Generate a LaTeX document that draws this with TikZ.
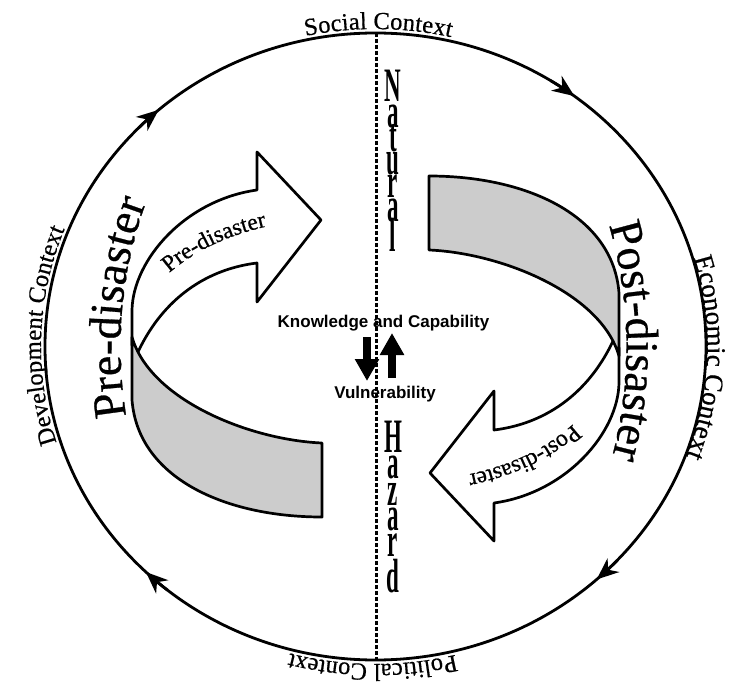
\documentclass[tikz,border=0pt]{standalone}
\usepackage{fontspec}
\setmainfont{Liberation Serif}[FakeBold=0.6]
\setsansfont{Liberation Sans}
\newfontfamily\tallserif{Liberation Serif Bold}
\usetikzlibrary{decorations.text,arrows.meta}
\definecolor{bandgray}{gray}{0.8}
\newcommand\ctxfont{\fontsize{24.5}{24.5}\selectfont}
\newcommand\ecofont{\fontsize{27}{27}\selectfont}
\newcommand\bigfont{\fontsize{46}{46}\selectfont}
\newcommand\smlfont{\fontsize{23.5}{23.5}\selectfont}
\newcommand\tallfont{\tallserif\fontsize{48}{48}\selectfont}
\tikzset{
  ctx/.style={decorate, decoration={text along path, text align=center, raise=4pt, text={|\ctxfont|#1}}},
  eco/.style={decorate, decoration={text along path, text align=center, raise=1pt, text={|\ecofont|#1}}},
  bigtext/.style={decorate, decoration={text along path, text align=center, raise=0pt, text={|\bigfont|#1}}},
  smltext/.style={decorate, decoration={text along path, text align=center, raise=-4pt, text={|\smlfont|#1}}},
  ribbonline/.style={draw=black, line width=2.7pt, line join=round},
  circarrow/.style={line width=2.8pt, -{Stealth[length=22pt,width=18pt,inset=7pt]}},
  thickarrow/.style={line width=7.5pt, -{Triangle[length=22pt,width=23pt]}},
  dotline/.style={line width=3pt, dash pattern=on 4pt off 2pt},
  tallletter/.style={inner sep=0pt, anchor=base, font=\tallfont},
  kvtext/.style={font=\sffamily\bfseries\fontsize{17}{17}\selectfont, inner sep=0pt}
}
% #1 small label, #2 #3 shift of the small label
\newcommand\myribbon[3]{%
  \path[ribbonline, fill=white] (132,345) -- (132,310) .. controls (133,260) and (185,200) .. (257,190)
    -- (257,152) -- (321,220) -- (257,302) -- (257,263)
    .. controls (200,270) and (160,305) .. (138,352) -- cycle;
  \path[ribbonline, fill=bandgray] (132,337) -- (132,400) .. controls (138,478) and (225,517) .. (322,517)
    -- (322,443) .. controls (250,440) and (150,400) .. (132,337) -- cycle;
  \begin{scope}[shift={(#2,#3)}]
    \path[smltext={#1}] (136,310) .. controls (172,255) and (235,228) .. (312,220);
  \end{scope}
}
\begin{document}
\begin{tikzpicture}[x=1pt,y=-1pt]
\useasboundingbox (0,0) rectangle (730,684);
\fill[white] (0,0) rectangle (730,684);
\coordinate (c) at (375.5,346.5);

% outer ellipse
\draw[line width=2.8pt] (c) ellipse[x radius=330.5, y radius=313.5];
\foreach \a in {307,229,134,48}{
  \draw[circarrow] (c) ++(\a-5:330.5 and 313.5) arc[start angle=\a-5, end angle=\a, x radius=330.5, y radius=313.5];
}

% context labels
\path[ctx={Social Context}] (c) ++(240:330.5 and 313.5) arc[start angle=240, end angle=301, x radius=330.5, y radius=313.5];
\path[eco={Economic Context}] (c) ++(-40:330.5 and 313.5) arc[start angle=-40, end angle=44, x radius=330.5, y radius=313.5];
\path[ctx={Political Context}] (c) ++(60:330.5 and 313.5) arc[start angle=60, end angle=121, x radius=330.5, y radius=313.5];
\path[ctx={Development Context}] (c) ++(146:330.5 and 313.5) arc[start angle=146, end angle=218, x radius=330.5, y radius=313.5];

% ribbons
\myribbon{Pre-disaster}{0}{-5}
\begin{scope}[rotate around={180:(c)}]
\myribbon{Post-disaster}{12}{-12}
\end{scope}

% big labels
\path[bigtext={Pre-disaster}] (c) ++(160:255 and 330) arc[start angle=160, end angle=214, x radius=255, y radius=330];
\path[bigtext={Post-disaster}] (c) ++(-30:251 and 330) arc[start angle=-30, end angle=28, x radius=251, y radius=330];

% centre texts
\node[kvtext] (kc) at (383.5,323) {Knowledge and Capability};
\node[kvtext] (vu) at (385,394) {Vulnerability};

% Natural / Hazard
\foreach \ch/\yy [count=\i] in {N/102,a/128,t/152,u/175,r/198,a/222,l/252}{
  \node[tallletter] (nat\i) at (393,\yy) {\scalebox{0.48}[1]{\ch}};
}
\foreach \ch/\yy [count=\i] in {H/452,a/478,z/505,a/530,r/556,d/592}{
  \node[tallletter] (haz\i) at (393,\yy) {\scalebox{0.48}[1]{\ch}};
}

% dotted divider
\coordinate (dtop) at (376,33);
\coordinate (dbot) at (376,660);
\draw[dotline] (dtop) -- (dbot);

% thick arrows
\coordinate (d1) at (367,337);
\coordinate (d2) at (367,381);
\coordinate (u1) at (392,378);
\coordinate (u2) at (392,333);
\draw[thickarrow] (d1) -- (d2);
\draw[thickarrow] (u1) -- (u2);
\end{tikzpicture}
\end{document}
